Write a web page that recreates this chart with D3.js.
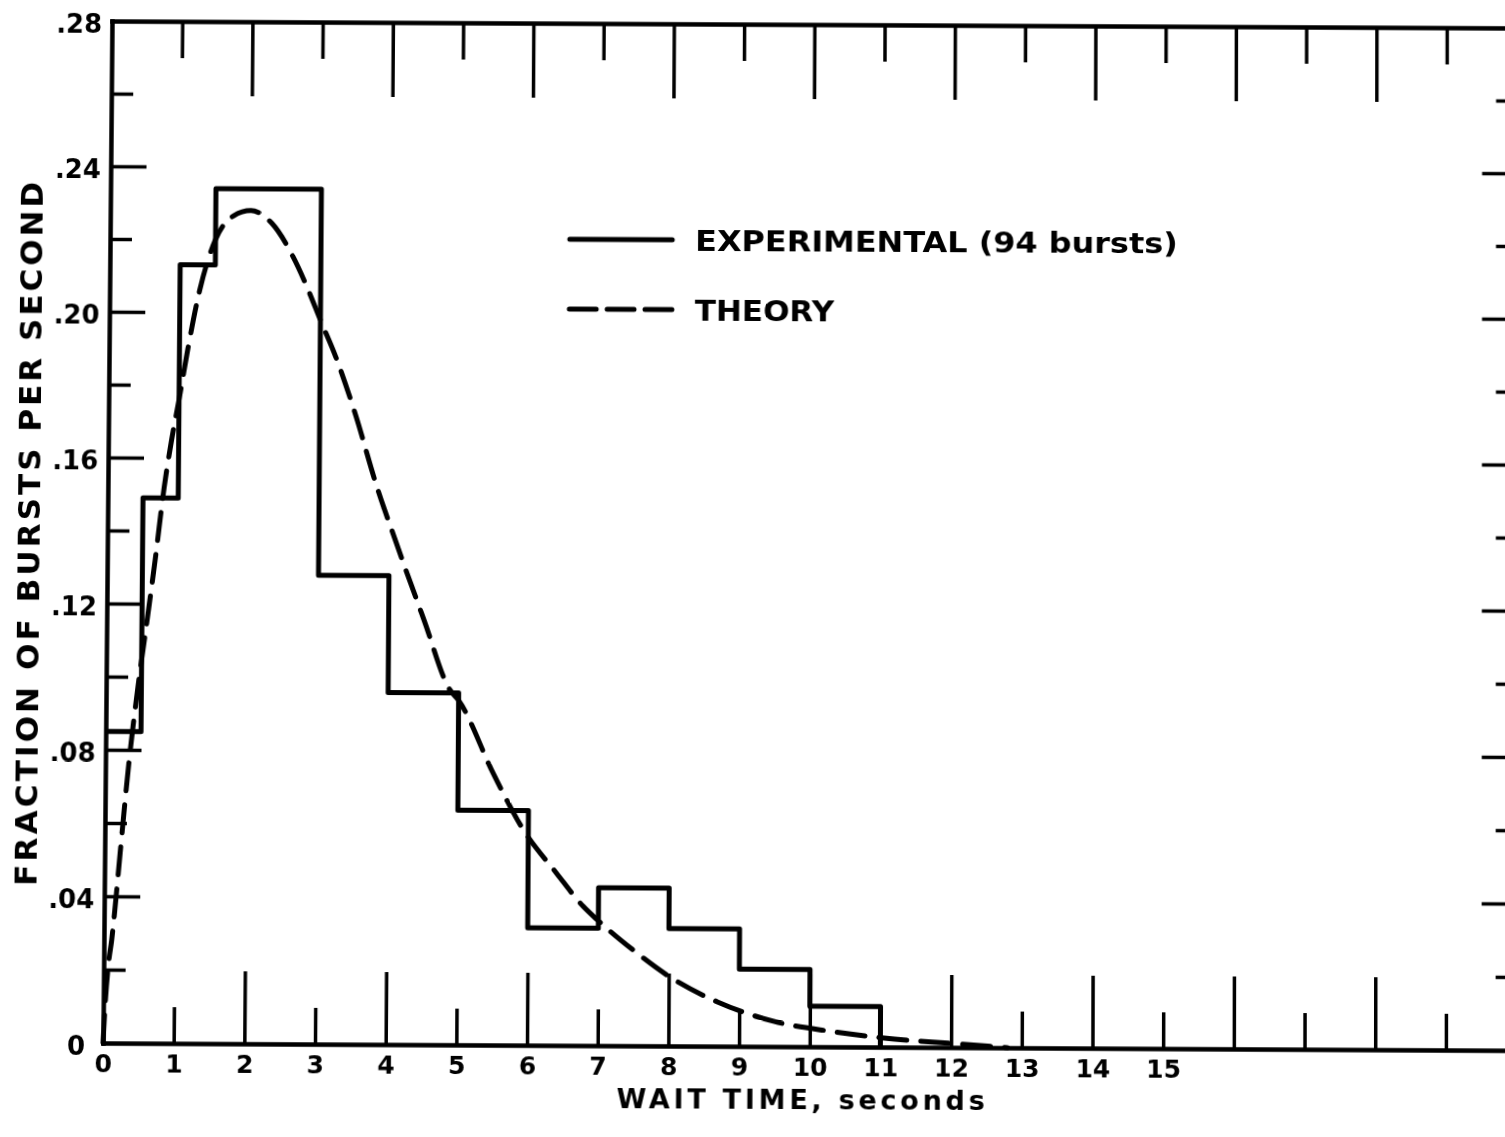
<!DOCTYPE html>
<html>
<head>
<meta charset="utf-8">
<script src="https://cdn.jsdelivr.net/npm/d3@7"></script>
<style>
  html, body { margin: 0; padding: 0; background: #fff; }
  #chart { position: absolute; left: 0; top: 0; transform-origin: 0 0; }
  text { font-family: "DejaVu Sans", sans-serif; font-weight: bold; fill: #000; }
</style>
</head>
<body>
<svg id="chart" width="1505" height="1137"></svg>
<script>
// ---------------- data ----------------
const binEdges = [0, 0.5, 1, 1.5, 3, 4, 5, 6, 7, 8, 9, 10, 11];
const experimental = [0.085, 0.149, 0.213, 0.234, 0.128, 0.096, 0.064, 0.032, 0.043, 0.032, 0.021, 0.011];

const theoryX = [0, 0.03, 0.07, 0.11, 0.15, 0.22, 0.34, 0.45, 0.59, 0.68, 0.8, 0.9, 1.0, 1.12, 1.28, 1.5, 1.75, 2.0, 2.3, 2.6, 2.84, 3.0, 3.22, 3.51, 3.8, 4.1, 4.5, 4.87, 5.0, 5.5, 5.92, 6.4, 6.78, 7.0, 7.5, 8.0, 8.7, 9.5, 10.3, 11.2, 12.0, 12.8];
const theoryY = [0, 0.012, 0.022, 0.028, 0.036, 0.052, 0.078, 0.097, 0.118, 0.132, 0.152, 0.165, 0.176, 0.190, 0.206, 0.220, 0.2265, 0.228, 0.2245, 0.2155, 0.2055, 0.198, 0.188, 0.172, 0.1535, 0.137, 0.116, 0.097, 0.094, 0.074, 0.059, 0.047, 0.038, 0.034, 0.026, 0.019, 0.012, 0.0068, 0.0042, 0.0022, 0.0011, 0.0];

const xTickValues = d3.range(1, 20);              // frame ticks 1..19
const xLabelValues = d3.range(0, 16);             // labelled 0..15
const xTickLabels = xLabelValues.map(String);
const yTickValues = [0.02, 0.04, 0.06, 0.08, 0.10, 0.12, 0.14, 0.16, 0.18, 0.20, 0.22, 0.24, 0.26];
const yLabelValues = [0.28, 0.24, 0.20, 0.16, 0.12, 0.08, 0.04, 0];
const yTickLabels = [".28", ".24", ".20", ".16", ".12", ".08", ".04", "0"];

const legendLabels = ["EXPERIMENTAL (94 bursts)", "THEORY"];
const xTitle = "WAIT TIME, seconds";
const yTitle = "FRACTION OF BURSTS PER SECOND";

// ---------------- layout ----------------
const L = 103, R = 1516.6, T = 21, B = 1043;
const x = d3.scaleLinear().domain([0, 20]).range([L, R]);
const y = d3.scaleLinear().domain([0, 0.28]).range([B, T]);

const svg = d3.select("#chart");

const AX = 4.5, TK = 3.5;
const longX = d => (d % 2 === 0);
const longY = d => (Math.round(d * 100) % 4 === 0);

// bottom frame + ticks
const gB = svg.append("g").attr("transform", `translate(0,${B})`)
  .call(d3.axisBottom(x).tickValues(xTickValues).tickSizeInner(-72).tickSizeOuter(0).tickFormat(""));
gB.selectAll(".tick line").attr("y2", d => longX(d) ? -72 : -36);

// top frame + ticks
const gT = svg.append("g").attr("transform", `translate(0,${T})`)
  .call(d3.axisTop(x).tickValues(xTickValues).tickSizeInner(-75).tickSizeOuter(0).tickFormat(""));
gT.selectAll(".tick line").attr("y2", d => longX(d) ? 75 : 37);

// left frame + ticks
const gL = svg.append("g").attr("transform", `translate(${L},0)`)
  .call(d3.axisLeft(y).tickValues(yTickValues).tickSizeInner(-36).tickSizeOuter(0).tickFormat(""));
gL.selectAll(".tick line").attr("x2", d => longY(d) ? 36 : 22);

// right frame + ticks
const gR = svg.append("g").attr("transform", `translate(${R},0)`)
  .call(d3.axisRight(y).tickValues(yTickValues).tickSizeInner(-35).tickSizeOuter(0).tickFormat(""));
gR.selectAll(".tick line").attr("x2", d => longY(d) ? -35 : -21);

[gB, gT, gL, gR].forEach(g => {
  g.select(".domain").attr("stroke", "#000").attr("stroke-width", AX).attr("stroke-linecap", "square");
  g.selectAll(".tick line").attr("stroke", "#000").attr("stroke-width", TK);
});

// x labels
const gXL = svg.append("g").attr("transform", `translate(0,${B})`)
  .call(d3.axisBottom(x).tickValues(xLabelValues).tickSize(0).tickPadding(11)
        .tickFormat((d, i) => xTickLabels[i]));
gXL.select(".domain").remove();
gXL.selectAll("text").attr("font-size", 25).attr("font-family", null);

// y labels
const gYL = svg.append("g").attr("transform", `translate(${L},0)`)
  .call(d3.axisLeft(y).tickValues(yLabelValues).tickSize(0).tickPadding(11)
        .tickFormat((d, i) => yTickLabels[i]));
gYL.select(".domain").remove();
gYL.selectAll("text").attr("font-size", 26).attr("font-family", null)
  .attr("dy", "0.45em")
  .attr("x", d => d === 0 ? -18 : -10);

// histogram (step line)
const histPts = binEdges.map((e, i) => [e, i < experimental.length ? experimental[i] : 0]);
svg.append("path")
  .datum(histPts)
  .attr("fill", "none")
  .attr("stroke", "#000")
  .attr("stroke-width", 5)
  .attr("stroke-linejoin", "round")
  .attr("d", d3.line().x(d => x(d[0])).y(d => y(d[1])).curve(d3.curveStepAfter));

// theory (dashed)
const theoryPts = theoryX.map((v, i) => [v, theoryY[i]]);
svg.append("path")
  .datum(theoryPts)
  .attr("fill", "none")
  .attr("stroke", "#000")
  .attr("stroke-width", 5)
  .attr("stroke-linecap", "round")
  .attr("stroke-dasharray", "28 14")
  .attr("d", d3.line().x(d => x(d[0])).y(d => y(d[1])).curve(d3.curveMonotoneX));

// legend
const leg = svg.append("g");
leg.append("line").attr("x1", 565).attr("x2", 668).attr("y1", 238).attr("y2", 238)
  .attr("stroke", "#000").attr("stroke-width", 5).attr("stroke-linecap", "round");
leg.append("line").attr("x1", 565).attr("x2", 668).attr("y1", 308).attr("y2", 308)
  .attr("stroke", "#000").attr("stroke-width", 5).attr("stroke-linecap", "round")
  .attr("stroke-dasharray", "27 11 27 11 27 50");
leg.append("text").attr("x", 691).attr("y", 249).attr("font-size", 28)
  .attr("textLength", 485).attr("lengthAdjust", "spacingAndGlyphs").text(legendLabels[0]);
leg.append("text").attr("x", 691).attr("y", 319).attr("font-size", 28)
  .attr("textLength", 140).attr("lengthAdjust", "spacingAndGlyphs").text(legendLabels[1]);

// axis titles
svg.append("text").attr("x", 801).attr("y", 1105).attr("font-size", 27)
  .attr("text-anchor", "middle").attr("textLength", 368).attr("lengthAdjust", "spacing")
  .text(xTitle);
svg.append("text").attr("transform", `translate(${24},${535}) rotate(-90)`)
  .attr("font-size", 31).attr("text-anchor", "middle")
  .attr("dy", "0.36em")
  .attr("textLength", 704).attr("lengthAdjust", "spacing")
  .text(yTitle);

// ---- small perspective correction to match the scanned original's keystone ----
function homography(src, dst) {
  const A = [], bvec = [];
  for (let i = 0; i < 4; i++) {
    const [sx, sy] = src[i], [dx, dy] = dst[i];
    A.push([sx, sy, 1, 0, 0, 0, -sx * dx, -sy * dx]); bvec.push(dx);
    A.push([0, 0, 0, sx, sy, 1, -sx * dy, -sy * dy]); bvec.push(dy);
  }
  const n = 8;
  for (let c = 0; c < n; c++) {
    let p = c;
    for (let r = c + 1; r < n; r++) if (Math.abs(A[r][c]) > Math.abs(A[p][c])) p = r;
    [A[c], A[p]] = [A[p], A[c]]; [bvec[c], bvec[p]] = [bvec[p], bvec[c]];
    for (let r = 0; r < n; r++) {
      if (r === c) continue;
      const f = A[r][c] / A[c][c];
      for (let k = c; k < n; k++) A[r][k] -= f * A[c][k];
      bvec[r] -= f * bvec[c];
    }
  }
  return bvec.map((v, i) => v / A[i][i]);
}
const h = homography(
  [[L, B], [R, B], [L, T], [R, T]],
  [[103, 1043], [1516.6, 1050.4], [112, 21], [1517, 28]]
);
document.getElementById("chart").style.transform =
  `matrix3d(${h[0]},${h[3]},0,${h[6]},${h[1]},${h[4]},0,${h[7]},0,0,1,0,${h[2]},${h[5]},0,1)`;
</script>
</body>
</html>
